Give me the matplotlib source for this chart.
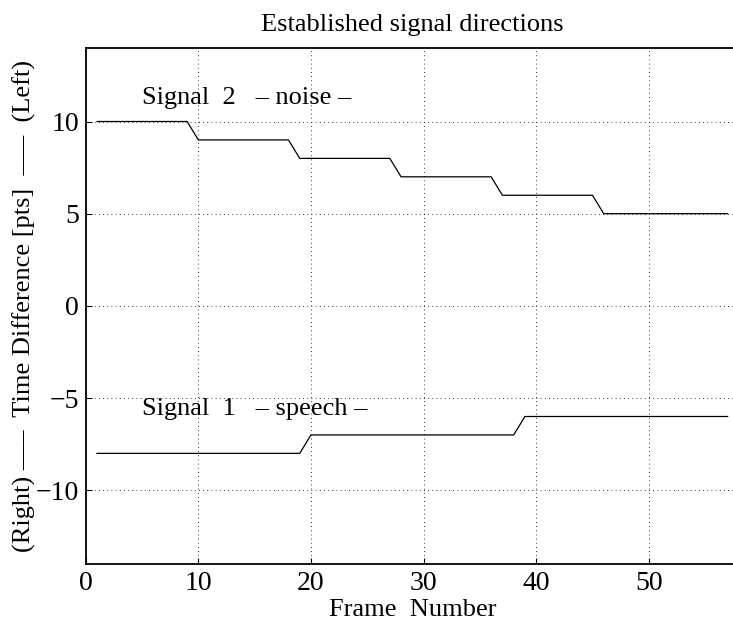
import matplotlib
matplotlib.use("Agg")
import matplotlib.pyplot as plt

# frame numbers and established directions (time difference in pts)
frames = list(range(1, 58))
signal2 = [10] * 9 + [9] * 9 + [8] * 9 + [7] * 9 + [6] * 9 + [5] * 12
signal1 = [-8] * 19 + [-7] * 19 + [-6] * 19

xticks = [0, 10, 20, 30, 40, 50]
yticks = [-10, -5, 0, 5, 10]

plt.rcParams['font.family'] = ['Liberation Serif', 'DejaVu Serif']

fig = plt.figure(figsize=(7.33, 6.25), dpi=100)
# right edge of the box falls just outside the picture, as in the original
ax = fig.add_axes([0.117, 0.0976, 0.891, 0.826])

ax.plot(frames, signal2, color='black', lw=0.9)
ax.plot(frames, signal1, color='black', lw=0.9)

ax.text(5, 11.3, 'Signal  2   – noise –', fontsize=19, va='center', ha='left')
ax.text(5, -5.6, 'Signal  1   – speech –', fontsize=19, va='center', ha='left')

ax.set_xlim(0, 58)
ax.set_ylim(-14, 14)
ax.set_xticks(xticks)
ax.set_yticks(yticks)
ax.set_yticklabels(['\u221210', '\u22125', '0', '5', '10'])
ax.tick_params(direction='in', length=4, width=0.8, labelsize=20, pad=5)

ax.grid(True, linestyle=(0, (1, 4)), color='black', lw=0.6)

for s in ax.spines.values():
    s.set_linewidth(1.3)

ax.set_title('Established signal directions', fontsize=19, pad=12)
ax.set_xlabel('Frame  Number', fontsize=19, labelpad=2)
ax.set_ylabel('(Right) –––  Time Difference [pts]  –––  (Left)', fontsize=19, labelpad=0)

plt.savefig('out.png', dpi=100)
